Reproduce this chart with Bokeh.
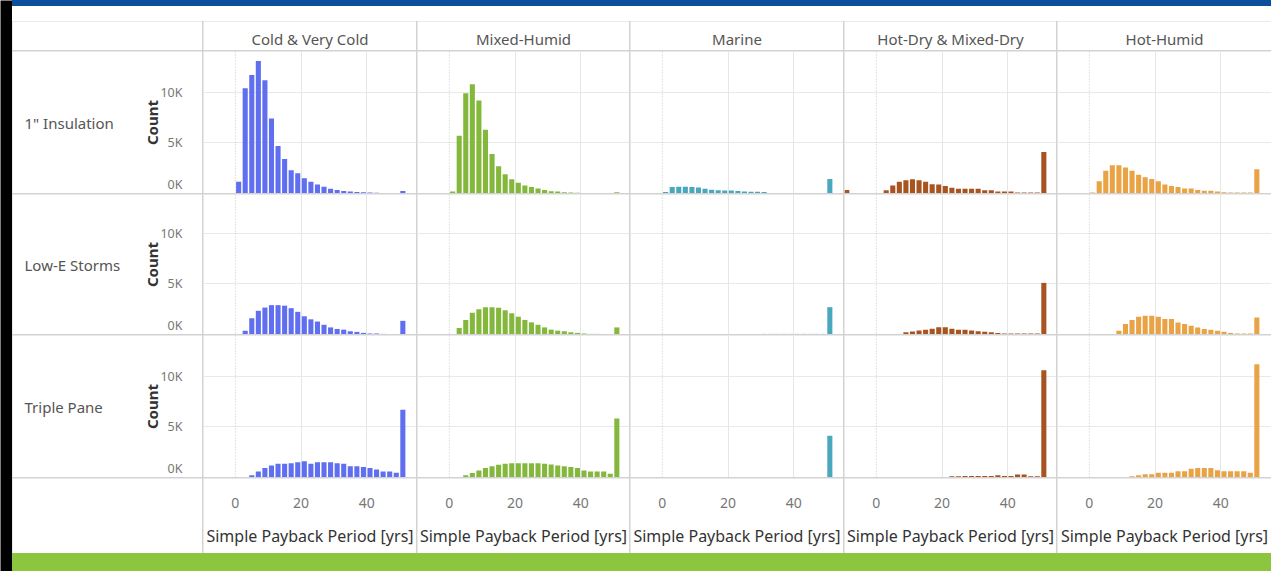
from math import pi
from bokeh.plotting import figure
from bokeh.models import Range1d, ColumnDataSource, Grid, FixedTicker, Span, GridBox, Spacer
from bokeh.layouts import row, column
from bokeh.core.properties import value
from bokeh.embed import file_html
from bokeh.resources import INLINE

# ---------------- data ----------------
CLIMATES = ["Cold & Very Cold", "Mixed-Humid", "Marine", "Hot-Dry & Mixed-Dry", "Hot-Humid"]
MEASURES = ["1\" Insulation", "Low-E Storms", "Triple Pane"]
X_TICKS = [0, 20, 40]
X_TICK_LABELS = ["0", "20", "40"]
Y_TICKS = [0, 5000, 10000]
Y_TICK_LABELS = ["0K", "5K", "10K"]
X_TITLE = "Simple Payback Period [yrs]"
Y_TITLE = "Count"

# histogram bin midpoints (2-year bins; last bin = 50+ years)
BIN_MIDS = [-9, 1, 3, 5, 7, 9, 11, 13, 15, 17, 19, 21, 23, 25, 27, 29, 31, 33, 35, 37, 39, 41, 43, 45, 47, 49, 51]

cold_insulation = [0, 1150, 10400, 11700, 13100, 11200, 7400, 4700, 3400, 2300, 2000, 1500, 1150, 900, 670, 480, 350, 250, 200, 150, 120, 100, 80, 60, 0, 0, 250]
mixed_insulation = [0, 200, 5700, 9900, 10800, 9200, 6300, 3900, 2700, 1900, 1400, 1060, 800, 640, 500, 350, 220, 200, 130, 100, 80, 60, 50, 0, 0, 0, 120]
marine_insulation = [0, 150, 650, 660, 660, 650, 600, 480, 380, 330, 300, 290, 250, 200, 180, 170, 150, 0, 0, 0, 0, 0, 0, 0, 0, 0, 1440]
hotdry_insulation = [350, 0, 320, 800, 1150, 1300, 1400, 1300, 1150, 920, 900, 740, 580, 480, 480, 480, 470, 320, 320, 200, 200, 200, 100, 100, 100, 100, 4100]
hothumid_insulation = [0, 100, 1200, 2240, 2800, 2800, 2560, 2240, 1860, 1600, 1440, 1200, 900, 740, 640, 500, 500, 350, 260, 260, 190, 120, 100, 100, 100, 100, 2400]

cold_lowe = [0, 0, 380, 1600, 2340, 2660, 2900, 2900, 2850, 2600, 2240, 1800, 1500, 1280, 960, 700, 550, 480, 320, 260, 160, 100, 100, 60, 0, 0, 1350]
mixed_lowe = [0, 60, 640, 1440, 2150, 2500, 2700, 2700, 2650, 2400, 2100, 1760, 1440, 1200, 960, 700, 480, 380, 320, 220, 160, 100, 60, 60, 0, 0, 700]
marine_lowe = [0, 0, 0, 0, 0, 50, 50, 50, 50, 50, 50, 60, 60, 60, 60, 60, 60, 60, 60, 60, 60, 60, 60, 60, 60, 60, 2700]
hotdry_lowe = [50, 0, 0, 0, 60, 230, 300, 390, 480, 580, 710, 710, 580, 480, 480, 390, 320, 260, 230, 160, 100, 100, 100, 100, 100, 100, 5100]
hothumid_lowe = [0, 0, 0, 0, 60, 380, 1030, 1440, 1760, 1860, 1860, 1760, 1540, 1540, 1190, 1030, 870, 700, 540, 480, 380, 260, 160, 100, 100, 100, 1670]

cold_triple = [0, 0, 0, 220, 600, 930, 1190, 1350, 1350, 1410, 1500, 1600, 1350, 1500, 1500, 1500, 1410, 1350, 1120, 1120, 1030, 930, 800, 600, 600, 480, 6700]
mixed_triple = [0, 0, 60, 220, 450, 700, 930, 1120, 1250, 1350, 1410, 1410, 1410, 1410, 1410, 1350, 1280, 1190, 1120, 1030, 930, 700, 600, 600, 600, 380, 5830]
marine_triple = [0, 0, 0, 0, 0, 0, 20, 20, 20, 20, 20, 50, 50, 50, 50, 50, 50, 50, 50, 50, 50, 50, 50, 50, 50, 50, 4130]
hotdry_triple = [0, 0, 0, 0, 0, 0, 30, 60, 60, 60, 60, 60, 130, 130, 160, 160, 160, 160, 160, 220, 160, 160, 290, 290, 130, 130, 10600]
hothumid_triple = [0, 0, 0, 0, 0, 0, 60, 130, 220, 320, 320, 480, 480, 480, 610, 610, 870, 930, 930, 930, 710, 610, 610, 610, 610, 480, 11200]

SERIES = [
    [cold_insulation, mixed_insulation, marine_insulation, hotdry_insulation, hothumid_insulation],
    [cold_lowe, mixed_lowe, marine_lowe, hotdry_lowe, hothumid_lowe],
    [cold_triple, mixed_triple, marine_triple, hotdry_triple, hothumid_triple],
]

# ---------------- style / layout ----------------
COLORS = ["#5F6FF0", "#84B83C", "#4AA8BE", "#A85420", "#EAA344"]
FONT = "Noto Sans"
SEP = "#d2d2d2"
TOTAL_W = 1271
BLACK_W = 12
C0_W = 190
PANE_W = [213, 212, 213, 212, 214]
BLUE_H = 6
TOPGAP_H = 15
HEADER_H = 29
ROW_H = [142, 140, 142]
AXIS_H = 75
GREEN_H = 18
X_START = -9.7
PX_PER_X = 3.284
PX_PER_K = 10.12
BAR_W = 1.55


def blank(width, height, x_range=None, y_range=None, fill="white"):
    p = figure(width=width, height=height,
               x_range=x_range if x_range is not None else Range1d(0, width),
               y_range=y_range if y_range is not None else Range1d(height, 0),
               output_backend="svg", toolbar_location=None, tools="",
               min_border=0, x_axis_location=None, y_axis_location=None, title=None)
    p.outline_line_color = None
    p.background_fill_color = fill
    p.border_fill_color = fill
    p.grid.visible = False
    return p


x_ranges = [Range1d(X_START, X_START + w / PX_PER_X) for w in PANE_W]
y_ranges = [Range1d(0, h / PX_PER_K * 1000) for h in ROW_H]

children = []

# header row
children.append((blank(C0_W, HEADER_H), 0, 0))
for c, name in enumerate(CLIMATES):
    h = blank(PANE_W[c], HEADER_H)
    h.text(x=[PANE_W[c] / 2], y=[17], text=[name], text_align="center", text_baseline="middle",
           text_font=value(FONT), text_font_size="15px", text_color="#555555")
    children.append((h, 0, c + 1))

# panel rows
for r, measure in enumerate(MEASURES):
    yr = y_ranges[r]
    lab = blank(C0_W, ROW_H[r], y_range=yr)
    mid = (yr.start + yr.end) / 2
    lab.text(x=[12], y=[mid], text=[measure], text_align="left", text_baseline="middle",
             text_font=value(FONT), text_font_size="15px", text_color="#555555")
    lab.text(x=[139], y=[mid], text=[Y_TITLE], angle=pi / 2, text_align="center", text_baseline="middle",
             text_font=value(FONT), text_font_size="15px", text_font_style="bold", text_color="#333333")
    lab.text(x=[170] * len(Y_TICKS), y=Y_TICKS, text=Y_TICK_LABELS, y_offset=[-9, 0, 0],
             text_align="right", text_baseline="middle",
             text_font=value(FONT), text_font_size="12.5px", text_color="#777777")
    children.append((lab, r + 1, 0))
    for c in range(len(CLIMATES)):
        p = blank(PANE_W[c], ROW_H[r], x_range=x_ranges[c], y_range=yr)
        p.add_layout(Grid(dimension=1, ticker=FixedTicker(ticks=Y_TICKS[1:]), grid_line_color="#e9e9e9"))
        p.add_layout(Grid(dimension=0, ticker=FixedTicker(ticks=X_TICKS[1:]), grid_line_color="#e6e6e6"))
        p.add_layout(Span(location=X_TICKS[0], dimension="height", line_color="#c4c4c4",
                          line_dash="1 2", line_width=1))
        src = ColumnDataSource(dict(x=BIN_MIDS, top=SERIES[r][c]))
        p.vbar(x="x", top="top", bottom=0, width=BAR_W, source=src,
               fill_color=COLORS[c], line_color=None)
        children.append((p, r + 1, c + 1))

# axis row
children.append((blank(C0_W, AXIS_H), 4, 0))
for c in range(len(CLIMATES)):
    xr = x_ranges[c]
    a = blank(PANE_W[c], AXIS_H, x_range=xr, y_range=Range1d(AXIS_H, 0))
    a.text(x=X_TICKS, y=[24] * len(X_TICKS), text=X_TICK_LABELS, text_align="center", text_baseline="middle",
           text_font=value(FONT), text_font_size="14px", text_color="#777777")
    a.text(x=[(xr.start + xr.end) / 2], y=[57], text=[X_TITLE], text_align="center", text_baseline="middle",
           text_font=value(FONT), text_font_size="16px", text_color="#333333")
    children.append((a, 4, c + 1))

grid = GridBox(children=children, spacing=1, styles={"background-color": SEP})

inner_w = TOTAL_W - BLACK_W
total_h = BLUE_H + TOPGAP_H + HEADER_H + sum(ROW_H) + AXIS_H + 4 + GREEN_H
top_blue = Spacer(width=inner_w, height=BLUE_H, styles={"background-color": "#0B4F9C"})
top_white = Spacer(width=inner_w, height=TOPGAP_H, styles={"background-color": "white"})
bottom_green = Spacer(width=inner_w, height=GREEN_H, styles={"background-color": "#8CC63F"})
left_black = blank(BLACK_W, total_h, fill="black")

layout = row(left_black, column(top_blue, top_white, grid, bottom_green))

open("out.html", "w").write(file_html(layout, INLINE))
